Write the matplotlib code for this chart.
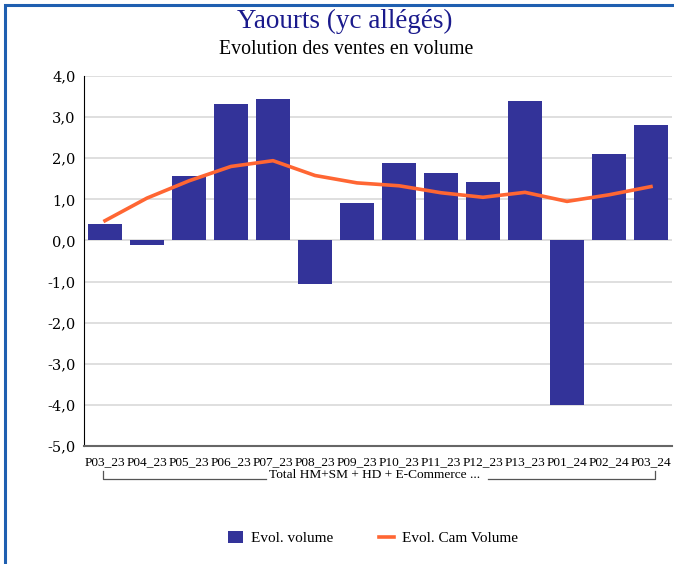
import numpy as np
import matplotlib.pyplot as plt
from matplotlib.lines import Line2D
from matplotlib.patches import Rectangle

periodes = ['P03_23', 'P04_23', 'P05_23', 'P06_23', 'P07_23', 'P08_23', 'P09_23',
            'P10_23', 'P11_23', 'P12_23', 'P13_23', 'P01_24', 'P02_24', 'P03_24']
evol_volume = [0.39, -0.10, 1.56, 3.33, 3.45, -1.07, 0.90,
               1.89, 1.65, 1.41, 3.40, -4.00, 2.11, 2.81]
evol_cam = [0.48, 1.03, 1.45, 1.80, 1.94, 1.58, 1.40,
            1.33, 1.16, 1.05, 1.17, 0.95, 1.11, 1.31]
y_ticks = [-5, -4, -3, -2, -1, 0, 1, 2, 3, 4]

plt.rcParams['font.family'] = ['DejaVu Serif']

fig = plt.figure(figsize=(6.74, 5.64), dpi=100)
W, H = 674, 564
ax = fig.add_axes([84 / W, 118 / H, 588 / W, 370 / H])

x = np.arange(len(periodes))
bars = ax.bar(x, evol_volume, width=0.81, color='#333399', zorder=3, label='Evol. volume')
line, = ax.plot(x, evol_cam, color='#ff6633', lw=2.6, zorder=4, label='Evol. Cam Volume')

ax.set_xlim(-0.5, len(periodes) - 0.5)
ax.set_ylim(-5, 4)
ax.set_yticks(y_ticks)
ax.set_yticklabels([f'{v:.1f}'.replace('.', ',') for v in y_ticks], fontsize=10.5)
ax.set_xticks(x)
ax.set_xticklabels(periodes, fontsize=9.6, family='Liberation Serif')
ax.tick_params(axis='x', length=0, pad=7)
ax.tick_params(axis='y', length=0, pad=6)
ax.grid(axis='y', color='#d9d9d9', lw=1.2, zorder=0)
for s in ['top', 'right']:
    ax.spines[s].set_visible(False)
ax.spines['left'].set_color('black')
ax.spines['bottom'].set_color('#666666')
ax.spines['bottom'].set_linewidth(1.5)

# accolade sous les categories
fig.add_artist(Line2D([103 / W, 103 / W, 266 / W], [1 - 471 / H, 1 - 479 / H, 1 - 479 / H],
                      color='#555555', lw=0.9))
fig.add_artist(Line2D([488 / W, 655 / W, 655 / W], [1 - 479 / H, 1 - 479 / H, 1 - 471 / H],
                      color='#555555', lw=0.9))
fig.text(375 / W, 1 - 475 / H, 'Total HM+SM + HD + E-Commerce ...', ha='center', va='center',
         fontsize=9.6, family='Liberation Serif')

fig.text(345 / W, 1 - 21 / H, 'Yaourts (yc allégés)', ha='center', va='center',
         fontsize=19.5, color='#1a1a8c', family='Liberation Serif')
fig.text(346 / W, 1 - 49 / H, 'Evolution des ventes en volume', ha='center', va='center',
         fontsize=14.3, family='Liberation Serif')

fig.legend([bars, line], ['Evol. volume', 'Evol. Cam Volume'],
           loc='center', bbox_to_anchor=(373 / W, 1 - 538 / H), ncol=2, frameon=False,
           prop={'family': 'Liberation Serif', 'size': 11},
           handlelength=1.0, handleheight=0.9, columnspacing=3.0, handletextpad=0.5)

# cadre bleu
fig.add_artist(Rectangle((5 / W, -0.05), 1.2, 1 - 5 / H + 0.05, transform=fig.transFigure,
                         fill=False, edgecolor='#1f5fb0', lw=2.2))

fig.savefig('out.png', dpi=100)
